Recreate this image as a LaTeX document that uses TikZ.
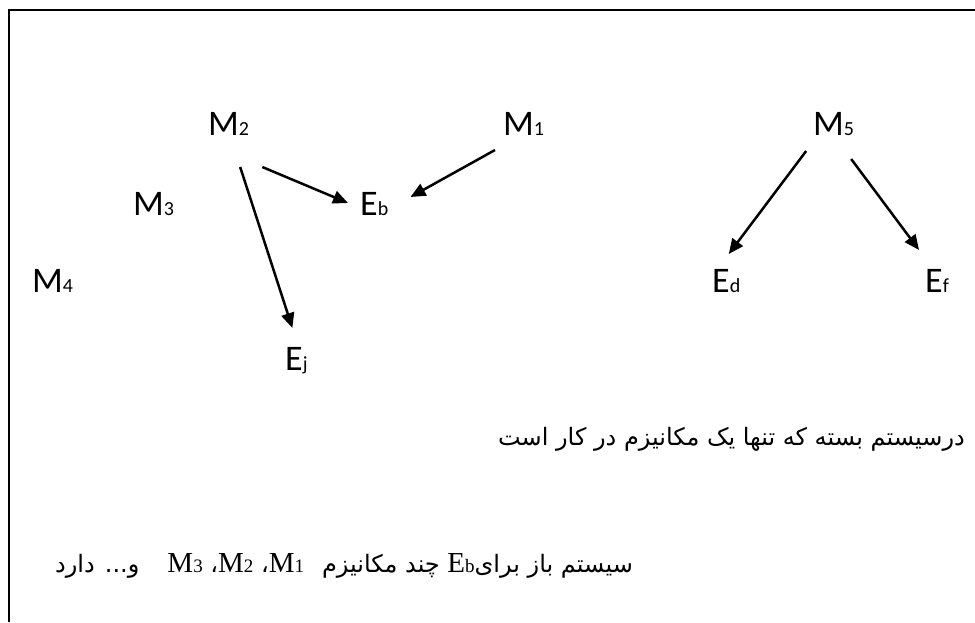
\documentclass[tikz,border=0pt]{standalone}
\usepackage{fontspec}
\usetikzlibrary{arrows.meta}
\TeXXeTstate=1
\newfontfamily\lblfont{Carlito}
\newfontfamily\seriffont{Liberation Serif}
\newfontfamily\arabicfont[Script=Arabic]{DejaVu Sans}
% letter with a small index at the base line
\newcommand{\mlbl}[2]{#1{\fontsize{20pt}{20pt}\selectfont #2}}
\newcommand{\slbl}[2]{\beginL{\seriffont\fontsize{29pt}{29pt}\selectfont #1{\fontsize{19pt}{19pt}\selectfont #2}}\endL}

\begin{document}
\begin{tikzpicture}[
    x=1pt, y=-1pt,
    mech/.style={inner sep=0pt, anchor=base west, font=\lblfont\fontsize{36pt}{36pt}\selectfont},
    note/.style={inner sep=0pt, font=\arabicfont\fontsize{24pt}{28pt}\selectfont},
    arrow/.style={->, line width=2.5pt, >={Triangle[length=15pt,width=13pt]}},
    frameline/.style={line width=1.5pt}
]
\useasboundingbox (0,0) rectangle (975,622);

% Frame
\draw[frameline] (9,622) -- (9,10) -- (975,10);

% Mechanisms
\node[mech] (M2) at (208,135) {\mlbl{M}{2}};
\node[mech] (M1) at (503,135) {\mlbl{M}{1}};
\node[mech] (M5) at (813,135) {\mlbl{M}{5}};
\node[mech] (M3) at (133,215) {\mlbl{M}{3}};
\node[mech] (M4) at (32,292) {\mlbl{M}{4}};

% Enzymes
\node[mech] (Eb) at (360,215) {\mlbl{E}{b}};
\node[mech] (Ej) at (285,370) {\mlbl{E}{j}};
\node[mech] (Ed) at (712,292) {\mlbl{E}{d}};
\node[mech] (Ef) at (925,292) {\mlbl{E}{f}};

% Arrows
\draw[arrow] ([xshift=13pt,yshift=-32pt]M2.base east) -- ([xshift=-12pt,yshift=12pt]Eb.base west);
\draw[arrow] ([xshift=11.5pt,yshift=-32pt]M2.base) -- ([xshift=-4pt,yshift=42pt]Ej.base);
\draw[arrow] ([xshift=-8pt,yshift=-15pt]M1.base west) -- ([xshift=22pt,yshift=18pt]Eb.base east);
\draw[arrow] ([xshift=-27.5pt,yshift=-16pt]M5.base) -- ([xshift=2.5pt,yshift=38pt]Ed.base);
\draw[arrow] ([xshift=17.5pt,yshift=-24pt]M5.base) -- ([xshift=-18pt,yshift=42pt]Ef.base);

% Notes
\node[note, anchor=base east] (closed) at (965,445)
     {\beginR درسیستم بسته که تنها یک مکانیزم در کار است\endR};
\node[note, anchor=base west] (open) at (55,572)
     {\beginR سیستم باز برای\slbl{E}{b} چند مکانیزم\hspace{18pt}\slbl{M}{1}، \slbl{M}{2}، \slbl{M}{3}\hspace{28pt}و... دارد\endR};

\end{tikzpicture}
\end{document}
